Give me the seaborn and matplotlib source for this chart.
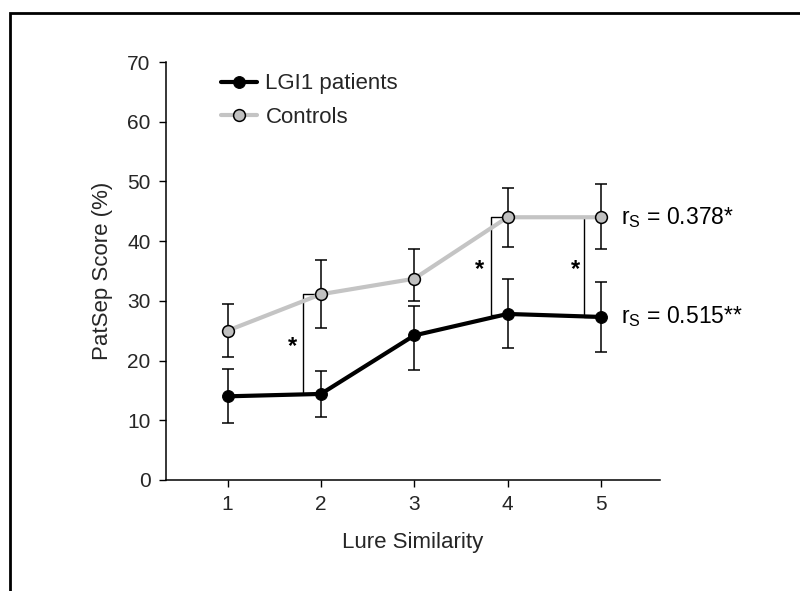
import numpy as np
import pandas as pd
import matplotlib
matplotlib.use("Agg")
import matplotlib.pyplot as plt
import seaborn as sns
from matplotlib.patches import Rectangle

# ---- data ----
lure_similarity = [1, 2, 3, 4, 5]
lgi1_mean = [14.0, 14.4, 24.2, 27.8, 27.3]
lgi1_err_low = [9.5, 10.5, 18.4, 22.1, 21.5]
lgi1_err_high = [18.5, 18.3, 29.2, 33.7, 33.1]
ctrl_mean = [25.0, 31.1, 33.7, 44.0, 44.0]
ctrl_err_low = [20.6, 25.4, 30.0, 39.0, 38.6]
ctrl_err_high = [29.4, 36.9, 38.6, 48.9, 49.5]
series_names = ["LGI1 patients", "Controls"]
yticks = [0, 10, 20, 30, 40, 50, 60, 70]
# significance brackets: (x position, low, high, asterisk x, asterisk y)
sig_x = [1.81, 3.82, 4.82]
sig_low = [14.4, 27.6, 27.3]
sig_high = [31.1, 44.0, 44.0]
sig_star_x = [1.70, 3.70, 4.73]
sig_star_y = [22.3, 35.3, 35.3]
rs_labels = ["0.378*", "0.515**"]
rs_y = [44.0, 27.3]

sns.set_theme(style="ticks")
plt.rcParams["font.family"] = ["Liberation Sans", "DejaVu Sans"]
plt.rcParams["mathtext.fontset"] = "custom"
plt.rcParams["mathtext.rm"] = "Liberation Sans"

fig = plt.figure(figsize=(8.0, 5.91), dpi=100)
ax = fig.add_axes([0.2075, 0.188, 0.617, 0.707])

df = pd.DataFrame({
    "x": lure_similarity * 2,
    "y": lgi1_mean + ctrl_mean,
    "group": [series_names[0]] * 5 + [series_names[1]] * 5,
})

# error bars
for mean, lo, hi in [(lgi1_mean, lgi1_err_low, lgi1_err_high),
                     (ctrl_mean, ctrl_err_low, ctrl_err_high)]:
    m = np.array(mean)
    yerr = np.vstack([m - np.array(lo), np.array(hi) - m])
    ax.errorbar(lure_similarity, m, yerr=yerr, fmt="none", ecolor="black",
                elinewidth=1.1, capsize=4, capthick=1.1, zorder=3)

# control line (gray) then patients (black)
sns.lineplot(data=df[df.group == series_names[1]], x="x", y="y", ax=ax,
             color="#c4c4c4", linewidth=3, marker="o", markersize=8.5,
             markerfacecolor="#c0c0c0", markeredgecolor="black",
             markeredgewidth=1.1, label=series_names[1], zorder=4)
sns.lineplot(data=df[df.group == series_names[0]], x="x", y="y", ax=ax,
             color="black", linewidth=3, marker="o", markersize=8.5,
             markerfacecolor="black", markeredgecolor="black",
             label=series_names[0], zorder=5)

# significance brackets
for sx, lo, hi, ax_, ay_ in zip(sig_x, sig_low, sig_high, sig_star_x, sig_star_y):
    ax.plot([sx + 0.13, sx, sx, sx + 0.13], [hi, hi, lo, lo], color="black",
            linewidth=1.0, zorder=2)
    ax.text(ax_, ay_, "*", ha="center", va="center", fontsize=17,
            fontweight="bold", color="black")

for lab, yy in zip(rs_labels, rs_y):
    ax.text(5.22, yy, r"r$_{\mathregular{S}}$ = " + lab, ha="left", va="center",
            fontsize=16.5, color="black")

ax.set_xlim(0.34, 5.63)
ax.set_ylim(0, 70)
ax.set_yticks(yticks)
ax.set_xticks(lure_similarity)
ax.tick_params(axis="both", labelsize=15, length=5, width=1, color="black",
               direction="out", pad=6)
for s in ["top", "right"]:
    ax.spines[s].set_visible(False)
for s in ["left", "bottom"]:
    ax.spines[s].set_linewidth(1.1)
    ax.spines[s].set_color("black")
ax.set_xlabel("Lure Similarity", fontsize=16, labelpad=13)
ax.set_ylabel("PatSep Score (%)", fontsize=16, labelpad=10)

handles, labels = ax.get_legend_handles_labels()
order = [labels.index(series_names[0]), labels.index(series_names[1])]
ax.legend([handles[i] for i in order], [labels[i] for i in order],
          loc="upper left", bbox_to_anchor=(0.08, 1.01), frameon=False,
          fontsize=16, handlelength=1.6, handletextpad=0.4, labelspacing=0.55,
          borderaxespad=0.3)

fig.patches.append(Rectangle((9.5 / 800, -0.1), 1.2, 1.0 - 12.5 / 591 + 0.1,
                             transform=fig.transFigure, fill=False,
                             edgecolor="black", linewidth=2.0, clip_on=False))

fig.savefig("out.png", dpi=100, facecolor="white")
